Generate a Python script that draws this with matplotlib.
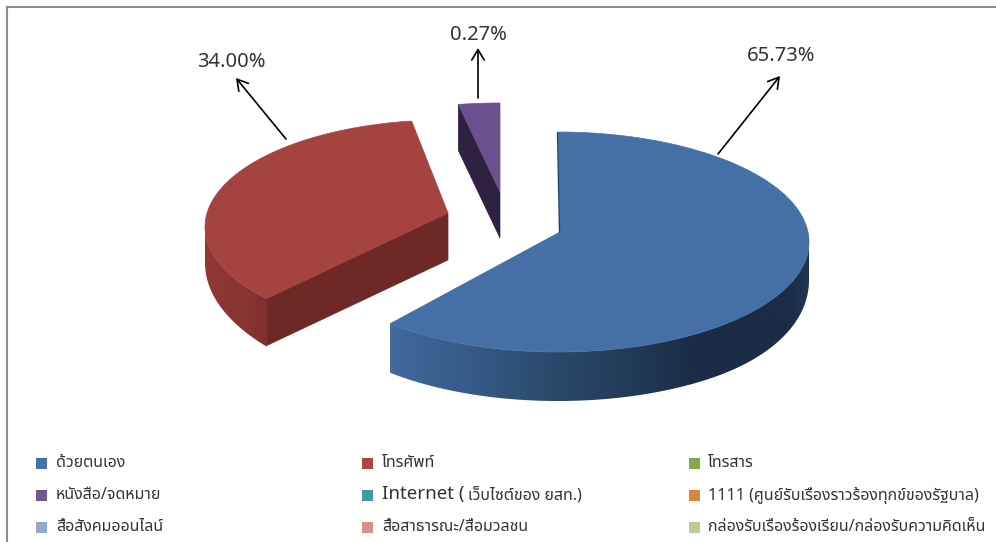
import matplotlib
matplotlib.use("Agg")
import matplotlib.pyplot as plt
from matplotlib.colors import LinearSegmentedColormap
from matplotlib.patches import Polygon, Rectangle
import numpy as np

plt.rcParams['font.family'] = ['Noto Sans Thai', 'Sarabun', 'Noto Sans', 'DejaVu Sans']

SLICE_LABELS = ["65.73%", "34.00%", "0.27%"]

# start and run of each slice in degrees, as drawn (the picture does not follow the printed shares)
SLICE_START = [90, 98, 90]
SLICE_SWEEP = [-222, 124, 10]

LEGEND_LABELS = [
    "ด้วยตนเอง", "โทรศัพท์", "โทรสาร",
    "หนังสือ/จดหมาย", "Internet (", "1111 (ศูนย์รับเรื่องราวร้องทุกข์ของรัฐบาล)",
    "สื่อสังคมออนไลน์", "สื่อสาธารณะ/สื่อมวลชน", "กล่องรับเรื่องร้องเรียน/กล่องรับความคิดเห็น",
]
INTERNET_TAIL = "เว็บไซต์ของ ยสท.)"
LEGEND_COLORS = [
    "#4572a7", "#aa4643", "#89a54e",
    "#71588f", "#4198af", "#db843d",
    "#93a9cf", "#d19392", "#b9cd96",
]

BLUE_WALL = LinearSegmentedColormap.from_list(
    "blue_wall", [(0, "#41699b"), (0.2, "#355a87"), (0.4, "#2a4869"), (0.6, "#213955"), (0.72, "#1a2c46"), (0.95, "#1a2c46"), (1, "#1f3552")])
RED_WALL = LinearSegmentedColormap.from_list("red_wall", [(0, "#8f3836"), (0.6, "#8a3533"), (1, "#7f302e")])


def arc(cx, cy, rx, ry, start, sweep, n=200):
    t = np.radians(np.linspace(start, start + sweep, n))
    return np.column_stack([cx + rx * np.cos(t), cy - ry * np.sin(t)])


def draw_wall(ax, cx, cy, rx, ry, t0, t1, depth0, depth1, cmap, hold=0.0):
    # outer wall, the gradient runs left to right and is clipped to the wall outline
    pts = arc(cx, cy, rx, ry, t0, t1 - t0, 240)
    s = np.clip((np.linspace(0, 1, len(pts)) - hold) / (1 - hold), 0, 1)
    if hold > 0:
        s = s ** 2  # no kink where the depth starts to change
    depth = depth0 + (depth1 - depth0) * s
    low = pts + np.column_stack([np.zeros(len(pts)), depth])
    outline = Polygon(np.vstack([pts, low[::-1]]), closed=True, fc="none", ec="none", transform=ax.transData)
    ax.add_patch(outline)
    x0, x1 = pts[:, 0].min(), pts[:, 0].max()
    y0, y1 = pts[:, 1].min(), low[:, 1].max()
    im = ax.imshow(np.linspace(0, 1, 256)[None, :], extent=(x0, x1, y1, y0), cmap=cmap, aspect="auto", zorder=2)
    im.set_clip_path(outline)


def draw_cut(ax, p, q, depth, color):
    drop = np.array([0, depth])
    ax.add_patch(Polygon([p, q, q + drop, p + drop], closed=True, fc=color, ec=color, lw=0.5, zorder=2))


fig = plt.figure(figsize=(9.96, 5.42), dpi=100)
ax = fig.add_axes([0, 0, 1, 1])

# frame, only top and left are in the crop
ax.plot([6.5, 996], [6.5, 6.5], color="#8c8c8c", lw=1.5, zorder=1)
ax.plot([6.5, 6.5], [6.5, 542], color="#8c8c8c", lw=1.5, zorder=1)

# blue slice
top = arc(558, 242, 251, 110, SLICE_START[0], SLICE_SWEEP[0])
apex = np.array([560.0, 232.0])
draw_wall(ax, 558, 242, 251, 110, SLICE_START[0] + SLICE_SWEEP[0], 0, 49, 38, BLUE_WALL, hold=0.6)
ax.add_patch(Polygon(np.vstack([top, apex]), closed=True, fc="#4570a5", ec="#4570a5", lw=0.5, zorder=3))
ax.plot([557.5, 559.5], [133, 232], color="#27436a", lw=1.0, zorder=4)

# red slice
top = arc(445, 227, 240, 107, SLICE_START[1], SLICE_SWEEP[1])
apex = np.array([448.0, 213.0])
draw_wall(ax, 445, 227, 240, 107, 180, SLICE_START[1] + SLICE_SWEEP[1], 36, 48, RED_WALL)
draw_cut(ax, top[-1], apex, 47, "#6e2826")
ax.add_patch(Polygon(np.vstack([top, apex]), closed=True, fc="#a5433f", ec="#a5433f", lw=0.5, zorder=3))

# purple slice, only the cut side shows
top = arc(500, 199, 240, 96, SLICE_START[2], SLICE_SWEEP[2])
apex = np.array([500.0, 192.0])
draw_cut(ax, top[-1], apex, 46, "#2e2240")
ax.add_patch(Polygon(np.vstack([top, apex]), closed=True, fc="#6b4f8e", ec="#6b4f8e", lw=0.5, zorder=3))

# callouts
label_xy = [(781, 56), (231, 62), (478, 35)]
tails = [(718, 154), (286, 139), (478, 98)]
heads = [(780, 76), (236, 78), (478, 48)]
for txt, xy, tail, head in zip(SLICE_LABELS, label_xy, tails, heads):
    ax.annotate("", xy=head, xytext=tail,
                arrowprops=dict(arrowstyle="->,head_length=0.75,head_width=0.45", color="black", lw=1.2, shrinkA=0, shrinkB=0),
                zorder=5)
    ax.text(xy[0], xy[1], txt, ha="center", va="center", fontsize=14.5, color="#333333",
            family=["Noto Sans", "DejaVu Sans"], fontweight="light")

# legend, three columns by three rows
col_x = [36, 362, 689]
text_x = [56, 382, 708]
row_y = [463, 495, 527]
for i, (lab, col) in enumerate(zip(LEGEND_LABELS, LEGEND_COLORS)):
    r, c = divmod(i, 3)
    ax.add_patch(Rectangle((col_x[c], row_y[r] - 5.5), 11, 11, fc=col, ec="none", zorder=3))
    if lab.startswith("Internet"):
        ax.text(text_x[c], row_y[r] - 0.5, lab, fontsize=13.5, va="center", color="#333333",
                family=["Noto Sans", "DejaVu Sans"], fontweight="medium")
        ax.text(468, row_y[r], INTERNET_TAIL, fontsize=11.5, va="center", color="#333333")
    else:
        ax.text(text_x[c], row_y[r], lab, fontsize=11.5, va="center", color="#333333")

ax.set_xlim(0, 996)
ax.set_ylim(542, 0)
ax.axis("off")
fig.savefig("out.png", dpi=100)
